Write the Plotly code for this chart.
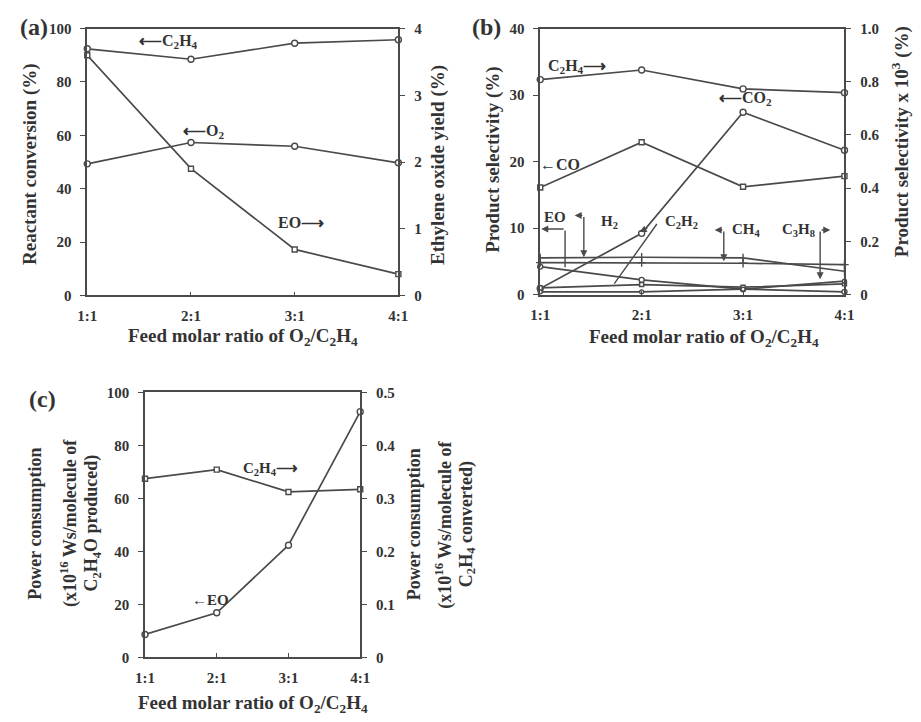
import plotly.graph_objects as go

# Feed molar ratio O2/C2H4 (categories) and their positions on the x axis
ratio_labels = ["1:1", "2:1", "3:1", "4:1"]
ratio_pos = [1, 2, 3, 4]

# (a) reactant conversion (%) and ethylene oxide yield (%)
a_c2h4_conv = [92.4, 88.5, 94.5, 95.8]
a_o2_conv = [49.3, 57.3, 55.9, 49.7]
a_eo_yield = [3.60, 1.90, 0.69, 0.32]

# (b) product selectivity (%) on the left axis, x 10^3 (%) on the right axis
b_c2h4 = [0.808, 0.844, 0.773, 0.759]
b_co2 = [0.9, 9.2, 27.4, 21.7]
b_co = [16.1, 22.9, 16.2, 17.8]
b_eo = [4.2, 2.2, 0.8, 0.4]
b_h2 = [5.5, 5.6, 5.5, 3.5]
b_ch4 = [4.8, 4.8, 4.7, 4.5]
b_c2h2 = [1.0, 1.5, 1.1, 1.6]
b_c3h8 = [0.01, 0.01, 0.02, 0.05]

# (c) power consumption
c_eo_power = [8.6, 16.8, 42.3, 92.7]
c_c2h4_power = [0.337, 0.354, 0.312, 0.317]

W, H = 921, 722
INK = "#333333"
LINE = "#4a4a4a"
SERIF = "Liberation Serif"
LARROW = "\u27f5"
RARROW = "\u27f6"


def px(x):
    return x / W


def py(y):
    return 1 - y / H


fig = go.Figure()


def add_series(xa, ya, values, symbol, size=6):
    fig.add_trace(go.Scatter(
        x=ratio_pos, y=values, xaxis=xa, yaxis=ya, mode="lines+markers",
        line=dict(color=LINE, width=1.7),
        marker=dict(symbol=symbol, size=size, color="white",
                    line=dict(color=LINE, width=1.4)),
        cliponaxis=False, showlegend=False, hoverinfo="skip"))


# panel (a)
add_series("x", "y", a_c2h4_conv, "circle")
add_series("x", "y", a_o2_conv, "circle")
add_series("x", "y2", a_eo_yield, "square", 5)

# panel (b)
add_series("x2", "y4", b_c2h4, "circle")
add_series("x2", "y3", b_co2, "circle")
add_series("x2", "y3", b_co, "square", 5)
add_series("x2", "y3", b_eo, "circle", 5)
add_series("x2", "y3", b_h2, "line-ns", 6)
add_series("x2", "y3", b_ch4, "cross-thin", 6)
add_series("x2", "y3", b_c2h2, "square", 4)
add_series("x2", "y4", b_c3h8, "circle", 4)

# panel (c)
add_series("x3", "y5", c_eo_power, "circle")
add_series("x3", "y6", c_c2h4_power, "square", 5)

tickfont = dict(family=SERIF, size=15, color=INK, weight="bold")


def xaxis_style(domain, anchor):
    return dict(domain=domain, anchor=anchor, range=[1, 4], tickmode="array",
                tickvals=ratio_pos, ticktext=ratio_labels, showline=True,
                linecolor=LINE, linewidth=1.7, mirror=True, ticks="inside",
                ticklen=4, tickcolor=LINE, showgrid=False, zeroline=False,
                tickfont=tickfont, ticklabelstandoff=6)


def yaxis_style(domain, anchor, rng, dtick, side="left", overlay=None):
    d = dict(domain=domain, anchor=anchor, range=rng, dtick=dtick, side=side,
             showline=True, linecolor=LINE, linewidth=1.7, ticks="outside",
             ticklen=5, tickcolor=LINE, showgrid=False, zeroline=False,
             tickfont=tickfont, ticklabelstandoff=6)
    if overlay:
        d["overlaying"] = overlay
    return d


dom_a_x = [px(79), px(397)]
dom_a_y = [py(294), py(21)]
dom_b_x = [px(542), px(853)]
dom_b_y = [py(293), py(21)]
dom_c_x = [px(138), px(358)]
dom_c_y = [py(664), py(393)]

fig.update_layout(
    width=W, height=H, margin=dict(l=0, r=0, t=0, b=0),
    paper_bgcolor="white", plot_bgcolor="white",
    font=dict(family=SERIF, color=INK),
    xaxis=xaxis_style(dom_a_x, "y"),
    yaxis=yaxis_style(dom_a_y, "x", [0, 100], 20),
    yaxis2=yaxis_style(dom_a_y, "x", [0, 4], 1, "right", "y"),
    xaxis2=xaxis_style(dom_b_x, "y3"),
    yaxis3=yaxis_style(dom_b_y, "x2", [0, 40], 10),
    yaxis4=yaxis_style(dom_b_y, "x2", [0, 1.0], 0.2, "right", "y3"),
    xaxis3=xaxis_style(dom_c_x, "y5"),
    yaxis5=yaxis_style(dom_c_y, "x3", [0, 100], 20),
    yaxis6=yaxis_style(dom_c_y, "x3", [0, 0.5], 0.1, "right", "y5"),
)
fig.layout.yaxis4.tickvals = [0, 0.2, 0.4, 0.6, 0.8, 1.0]
fig.layout.yaxis4.ticktext = ["0", "0.2", "0.4", "0.6", "0.8", "1.0"]
fig.layout.yaxis6.tickvals = [0, 0.1, 0.2, 0.3, 0.4, 0.5]
fig.layout.yaxis6.ticktext = ["0", "0.1", "0.2", "0.3", "0.4", "0.5"]

ann = []


def text(x, y, s, size=16, angle=0, xref="paper", yref="paper", xanchor="center"):
    ann.append(dict(x=x, y=y, xref=xref, yref=yref, text=s, showarrow=False,
                    textangle=angle, xanchor=xanchor, yanchor="middle",
                    font=dict(family=SERIF, size=size, color=INK, weight="bold")))


C2H4 = "C<sub>2</sub>H<sub>4</sub>"
XTITLE = "Feed molar ratio of O<sub>2</sub>/" + C2H4

# panel labels
text(px(25), py(19), "(a)", 24)
text(px(487), py(19), "(b)", 24)
text(px(33), py(400), "(c)", 24)

# axis titles
text(px(21), py(160), "Reactant conversion (%)", 19, -90)
text(px(438), py(160), "Ethylene oxide yield (%)", 19, -90)
text(px(238), py(336), XTITLE, 19)
text(px(493), py(155), "Product selectivity (%)", 19, -90)
text(px(911), py(137), "Product selectivity x 10<sup>3</sup> (%)", 19, -90)
text(px(709), py(337), XTITLE, 19)
text(px(26), py(527), "Power consumption", 18, -90)
text(px(61), py(527), "(x10<sup>16</sup> Ws/molecule of", 18, -90)
text(px(84), py(527), "C<sub>2</sub>H<sub>4</sub>O produced)", 18, -90)
text(px(413), py(528), "Power consumption", 18, -90)
text(px(444), py(528), "(x10<sup>16</sup> Ws/molecule of", 18, -90)
text(px(467), py(528), C2H4 + " converted)", 18, -90)
text(px(248), py(712), XTITLE, 19)

# series labels, panel (a)
text(px(162), py(34), LARROW + C2H4, 16)
text(px(198), py(126), LARROW + "O<sub>2</sub>", 16)
text(px(297), py(219), "EO" + RARROW, 16)

# series labels, panel (b)
text(px(580), py(60), C2H4 + RARROW, 16)
text(px(752), py(93), LARROW + "CO<sub>2</sub>", 16)
text(px(562), py(160), "\u2190CO", 16)
text(px(557), py(214), "EO", 15)
text(px(613), py(219), "H<sub>2</sub>", 15)
text(px(686), py(219), "C<sub>2</sub>H<sub>2</sub>", 15)
text(px(753), py(227), "CH<sub>4</sub>", 15)
text(px(806), py(227), "C<sub>3</sub>H<sub>8</sub>", 15)

# series labels, panel (c)
text(px(266), py(471), C2H4 + RARROW, 15)
text(px(205), py(605), "\u2190EO", 15)


def arrow(xa, ya, x0, y0, x1, y1, head=True):
    # straight pointer from (x0, y0) to (x1, y1) in data units of the given axes
    ann.append(dict(x=x1, y=y1, ax=x0, ay=y0, xref=xa, yref=ya, axref=xa,
                    ayref=ya, showarrow=True, arrowhead=2 if head else 0,
                    arrowsize=1, arrowwidth=1.4, arrowcolor=LINE, text=""))


# pointer arrows for the minor products in panel (b)
arrow("x2", "y3", 1.245, 9.85, 1.245, 4.1, head=False)
arrow("x2", "y3", 1.245, 9.85, 1.01, 9.85)
arrow("x2", "y3", 1.43, 11.9, 1.43, 5.6)
arrow("x2", "y3", 1.43, 11.9, 1.34, 11.9)
arrow("x2", "y3", 1.72, 1.4, 2.15, 10.6, head=False)
arrow("x2", "y3", 2.07, 10.1, 1.98, 9.4)
arrow("x2", "y3", 2.81, 9.7, 2.81, 5.0)
arrow("x2", "y3", 2.81, 9.7, 2.72, 9.7)
arrow("x2", "y3", 3.76, 9.7, 3.76, 2.3)
arrow("x2", "y3", 3.76, 9.7, 3.86, 9.7)

fig.update_layout(annotations=ann)
fig.write_html("out.html")
